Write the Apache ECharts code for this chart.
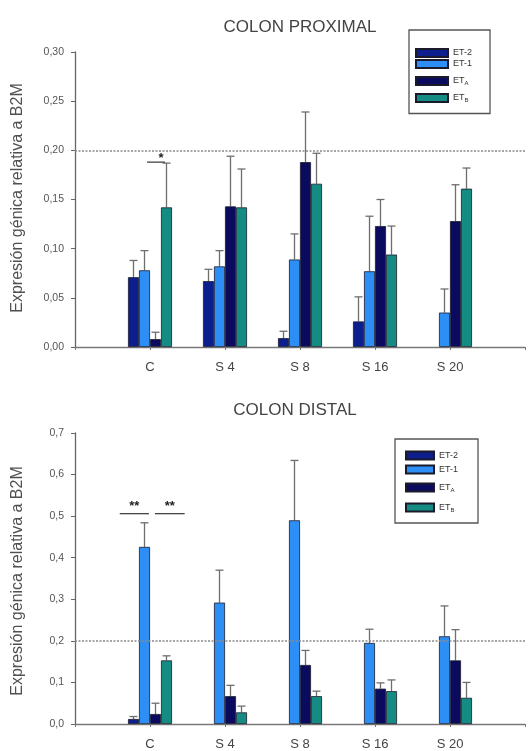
<!DOCTYPE html>
<html><head><meta charset="utf-8">
<script src="https://cdn.jsdelivr.net/npm/echarts@6/dist/echarts.min.js"></script>
<style>html,body{margin:0;padding:0;background:#fff}#c{width:528px;height:751px}</style>
</head><body><div id="c"></div>
<script>
// ---- data ----
const categories = ['C', 'S 4', 'S 8', 'S 16', 'S 20'];
const seriesNames = ['ET-2', 'ET-1', 'ETA', 'ETB'];
const colors = ['#0d1f8c', '#2d8ff5', '#0a0a5e', '#148c84'];

// COLON PROXIMAL
const proxET2 = [0.071, 0.067, 0.009, 0.026, null];
const proxET1 = [0.078, 0.082, 0.089, 0.077, 0.035];
const proxETA = [0.008, 0.143, 0.188, 0.123, 0.128];
const proxETB = [0.142, 0.142, 0.166, 0.094, 0.161];
const proxET2Err = [0.088, 0.079, 0.016, 0.051, null];
const proxET1Err = [0.098, 0.098, 0.115, 0.133, 0.059];
const proxETAErr = [0.015, 0.194, 0.239, 0.150, 0.165];
const proxETBErr = [0.187, 0.181, 0.197, 0.123, 0.182];
const proxTicks = [0, 0.05, 0.10, 0.15, 0.20, 0.25, 0.30];
// significance: [category, start bar, end bar, value, label]
const proxSig = [['C', 1.23, 2.86, 0.188, '*']];

// COLON DISTAL
const distET2 = [0.012, null, null, null, null];
const distET1 = [0.426, 0.292, 0.490, 0.195, 0.211];
const distETA = [0.024, 0.067, 0.142, 0.085, 0.153];
const distETB = [0.153, 0.028, 0.067, 0.079, 0.063];
const distET2Err = [0.018, null, null, null, null];
const distET1Err = [0.484, 0.370, 0.634, 0.228, 0.284];
const distETAErr = [0.050, 0.093, 0.177, 0.099, 0.227];
const distETBErr = [0.164, 0.043, 0.079, 0.106, 0.100];
const distTicks = [0, 0.1, 0.2, 0.3, 0.4, 0.5, 0.6, 0.7];
const distSig = [['C', -1.25, 1.4, 0.506, '**'], ['C', 1.95, 4.65, 0.506, '**']];

const refLine = 0.20;

// ---- build ----
const axisCats = [''].concat(categories, ['']);
const BAR_W = 11;
const FONT = 'Liberation Sans, Arial, sans-serif';

function pad(arr) { return [null].concat(arr, [null]); }

function barSeries(gi, vals) {
  return vals.map((v, i) => ({
    name: seriesNames[i], type: 'bar', xAxisIndex: gi, yAxisIndex: gi,
    data: pad(v), barWidth: BAR_W, barGap: '0%',
    itemStyle: { color: colors[i], borderColor: '#1a1a2a', borderWidth: 0.8 },
    z: 3, silent: true
  }));
}

function errSeries(gi, vals, errs) {
  const data = [];
  vals.forEach((arr, s) => arr.forEach((v, c) => {
    if (v != null && errs[s][c] != null) data.push([c + 1, s, v, errs[s][c]]);
  }));
  return {
    type: 'custom', xAxisIndex: gi, yAxisIndex: gi, z: 2, silent: true,
    data: data,
    renderItem: (params, api) => {
      const b = api.coord([api.value(0), api.value(2)]);
      const t = api.coord([api.value(0), api.value(3)]);
      const x = b[0] + (api.value(1) - 1.5) * BAR_W;
      const st = { stroke: '#6e6e6e', lineWidth: 1.3 };
      return { type: 'group', children: [
        { type: 'line', shape: { x1: x, y1: b[1], x2: x, y2: t[1] }, style: st },
        { type: 'line', shape: { x1: x - 4, y1: t[1], x2: x + 4, y2: t[1] }, style: st }
      ]};
    }
  };
}

function sigSeries(gi, sig) {
  return {
    type: 'custom', xAxisIndex: gi, yAxisIndex: gi, z: 4, silent: true,
    data: sig.map(s => [categories.indexOf(s[0]) + 1, s[1], s[2], s[3]]),
    renderItem: (params, api) => {
      const p = api.coord([api.value(0), api.value(3)]);
      const x1 = p[0] + (api.value(1) - 1.5) * BAR_W;
      const x2 = p[0] + (api.value(2) - 1.5) * BAR_W;
      const label = sig[params.dataIndex][4];
      const single = label.length === 1;
      return { type: 'group', children: [
        { type: 'line', shape: { x1: x1, y1: p[1], x2: x2, y2: p[1] }, style: { stroke: '#444', lineWidth: 1.3 } },
        { type: 'text', x: single ? x2 - 4 : (x1 + x2) / 2, y: single ? p[1] + 3 : p[1] - 1,
          style: { text: label, fill: '#222', font: 'bold 13px ' + FONT, align: 'center', verticalAlign: 'bottom' } }
      ]};
    }
  };
}

function refSeries(gi) {
  return {
    type: 'line', xAxisIndex: gi, yAxisIndex: gi, data: [], silent: true,
    markLine: { silent: true, symbol: 'none', label: { show: false },
      lineStyle: { color: '#8a8a8a', type: [2, 1.5], width: 1.6 },
      data: [{ yAxis: refLine }] }
  };
}

function fmt(dec) { return v => v.toFixed(dec).replace('.', ','); }

const legendRich = {
  s: { fontSize: 6, color: '#333', fontFamily: FONT, padding: [5, 0, 0, 0] }
};
function legendFmt(n) {
  if (n === 'ETA') return 'ET{s|A}';
  if (n === 'ETB') return 'ET{s|B}';
  return n;
}
function legend(left, top, iw, padArr, heights) {
  return {
    orient: 'vertical', left: left, top: top, itemWidth: iw, itemHeight: 8, itemGap: 1,
    padding: padArr, borderColor: '#555', borderWidth: 1.3,
    data: seriesNames.map((n, i) => ({ name: n, textStyle: { lineHeight: heights[i] } })),
    formatter: legendFmt,
    textStyle: { fontSize: 9, color: '#333', fontFamily: FONT, rich: legendRich },
    selectedMode: false, icon: 'rect'
  };
}

const yAxisCommon = {
  type: 'value', min: 0,
  axisLine: { show: true, lineStyle: { color: '#666', width: 1.3 } },
  axisTick: { show: true, length: 4, lineStyle: { color: '#666' } },
  splitLine: { show: false },
  axisLabel: { color: '#555', fontSize: 10.5, fontFamily: FONT, margin: 11 }
};
const xAxisCommon = {
  type: 'category', data: axisCats, boundaryGap: false,
  axisLine: { lineStyle: { color: '#777', width: 1.3 } },
  axisTick: { show: true, length: 3, lineStyle: { color: '#777' } },
  axisLabel: { color: '#444', fontSize: 13, fontFamily: FONT, margin: 14, interval: 0 }
};

const option = {
  animation: false,
  title: [
    { text: 'COLON PROXIMAL', left: 295, top: 14, textAlign: 'center',
      textStyle: { fontSize: 17, fontWeight: 'normal', color: '#444', fontFamily: FONT } },
    { text: 'COLON DISTAL', left: 290, top: 397, textAlign: 'center',
      textStyle: { fontSize: 17, fontWeight: 'normal', color: '#444', fontFamily: FONT } }
  ],
  legend: [
    legend(409, 30, 32, [18, 18, 10, 6], [8, 8, 22, 10]),
    legend(395, 439, 28, [10, 20, 7, 10], [13, 13, 21, 17])
  ],
  grid: [
    { left: 75, right: -3, top: 52, height: 295 },
    { left: 75, right: -3, top: 433, height: 296 }
  ],
  xAxis: [Object.assign({ gridIndex: 0 }, xAxisCommon), Object.assign({ gridIndex: 1 }, xAxisCommon)],
  yAxis: [
    Object.assign({}, yAxisCommon, { gridIndex: 0, max: proxTicks[proxTicks.length - 1], interval: proxTicks[1] - proxTicks[0],
      axisLabel: Object.assign({}, yAxisCommon.axisLabel, { formatter: fmt(2) }) }),
    Object.assign({}, yAxisCommon, { gridIndex: 1, max: distTicks[distTicks.length - 1], interval: distTicks[1] - distTicks[0],
      axisLabel: Object.assign({}, yAxisCommon.axisLabel, { formatter: fmt(1) }) })
  ],
  graphic: [
    { type: 'text', x: 18, y: 198, rotation: Math.PI / 2, style: { text: 'Expresión génica relativa a B2M',
      font: '16px ' + FONT, fill: '#505050', align: 'center', verticalAlign: 'middle' } },
    { type: 'text', x: 18, y: 581, rotation: Math.PI / 2, style: { text: 'Expresión génica relativa a B2M',
      font: '16px ' + FONT, fill: '#505050', align: 'center', verticalAlign: 'middle' } }
  ],
  series: [].concat(
    barSeries(0, [proxET2, proxET1, proxETA, proxETB]),
    [errSeries(0, [proxET2, proxET1, proxETA, proxETB], [proxET2Err, proxET1Err, proxETAErr, proxETBErr]),
     sigSeries(0, proxSig), refSeries(0)],
    barSeries(1, [distET2, distET1, distETA, distETB]),
    [errSeries(1, [distET2, distET1, distETA, distETB], [distET2Err, distET1Err, distETAErr, distETBErr]),
     sigSeries(1, distSig), refSeries(1)]
  )
};
const chart = echarts.init(document.getElementById('c'), null, { renderer: 'canvas' });
chart.setOption(option);
</script></body></html>
